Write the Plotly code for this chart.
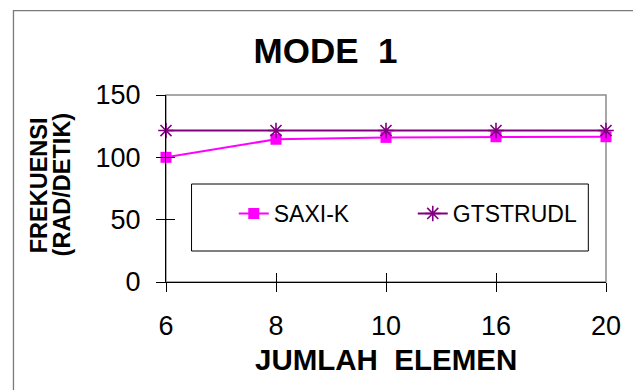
import plotly.graph_objects as go

categories = ["6", "8", "10", "16", "20"]
saxi_k = [100, 114.5, 116, 116.5, 116.5]
gtstrudl = [121.5, 121.5, 121.5, 121.5, 121.5]
y_ticks = [0, 50, 100, 150]

FONT = "Liberation Sans, Arial, sans-serif"

# figure geometry (pixels)
W, H = 633, 390
L, R, T, B = 166, 614, 95, 282
PW, PH = R - L, B - T


def px(x):
    return (x - L) / PW


def py(y):
    return 1 - (y - T) / PH


fig = go.Figure()
fig.add_trace(go.Scatter(
    x=categories, y=saxi_k, name="SAXI-K", mode="lines+markers",
    line=dict(color="#FF00FF", width=2),
    marker=dict(symbol="square", size=11, color="#FF00FF"),
    cliponaxis=False,
))
fig.add_trace(go.Scatter(
    x=categories, y=gtstrudl, name="GTSTRUDL", mode="lines+markers",
    line=dict(color="#800080", width=2),
    marker=dict(symbol="asterisk-open", size=13, color="#800080",
                line=dict(color="#800080", width=1.6)),
    cliponaxis=False,
))
# invisible trace to attach inner-tick overlay axes
fig.add_trace(go.Scatter(x=categories, y=saxi_k, xaxis="x2", yaxis="y2",
                         mode="none", showlegend=False, hoverinfo="skip"))

fig.update_layout(
    width=W, height=H,
    margin=dict(l=L, r=W - R, t=T, b=H - B),
    plot_bgcolor="white", paper_bgcolor="white",
    font=dict(family=FONT, color="black"),
    title=dict(text="MODE\u00a0\u00a01", x=325.5 / W, xref="container",
               y=1 - 50.5 / H, yref="container", xanchor="center", yanchor="middle",
               font=dict(family=FONT, size=35, color="black", weight="bold")),
    xaxis=dict(type="category", categoryorder="array", categoryarray=categories,
               range=[0, 4], showgrid=False, zeroline=False,
               showline=True, linecolor="black", linewidth=1,
               ticks="outside", ticklen=9, tickcolor="black", tickwidth=1,
               tickfont=dict(family=FONT, size=27, color="black"),
               ticklabelstandoff=11),
    yaxis=dict(range=[0, 150], tickvals=y_ticks, showgrid=False, zeroline=False,
               showline=True, linecolor="black", linewidth=1,
               ticks="outside", ticklen=9, tickcolor="black", tickwidth=1,
               tickfont=dict(family=FONT, size=27, color="black"),
               ticklabelstandoff=10),
    xaxis2=dict(type="category", categoryorder="array", categoryarray=categories,
                range=[0, 4], overlaying="x", side="bottom", showgrid=False,
                zeroline=False, showline=False, ticks="inside", ticklen=9,
                tickcolor="black", tickwidth=1, showticklabels=False, matches="x"),
    yaxis2=dict(range=[0, 150], tickvals=y_ticks, overlaying="y", side="left",
                showgrid=False, zeroline=False, showline=False, ticks="inside",
                ticklen=9, tickcolor="black", tickwidth=1, showticklabels=False),
    legend=dict(orientation="h", x=px(235), xanchor="left", y=py(213.5),
                yanchor="middle", bgcolor="rgba(0,0,0,0)", borderwidth=0,
                font=dict(family=FONT, size=23, color="black"),
                entrywidth=134, entrywidthmode="pixels", itemwidth=30),
    showlegend=True,
)

shapes = [
    # plot area border (gray top/right)
    dict(type="rect", xref="paper", yref="paper", x0=0, x1=1, y0=0, y1=1,
         line=dict(color="#8c8c8c", width=1.5), layer="below"),
    # legend box
    dict(type="rect", xref="paper", yref="paper", x0=px(192), x1=px(596),
         y0=py(251), y1=py(184), line=dict(color="black", width=1), layer="below"),
    # outer chart border
    dict(type="rect", xref="paper", yref="paper", x0=px(10.7), x1=px(700),
         y0=py(420), y1=py(10.7), line=dict(color="#7a7a7a", width=1.3), layer="below"),
]
fig.update_layout(shapes=shapes)

annotations = [
    dict(text="<b>JUMLAH\u00a0\u00a0ELEMEN</b>", xref="paper", yref="paper",
         x=px(390.5), y=py(359.5), xanchor="center", yanchor="middle",
         showarrow=False, font=dict(family=FONT, size=29.5, color="black")),
    dict(text="<b>FREKUENSI</b>", xref="paper", yref="paper", textangle=-90,
         x=px(36.5), y=py(185.5), xanchor="center", yanchor="middle",
         showarrow=False, font=dict(family=FONT, size=23.5, color="black")),
    dict(text="<b>(RAD/DETIK)</b>", xref="paper", yref="paper", textangle=-90,
         x=px(60), y=py(184.5), xanchor="center", yanchor="middle",
         showarrow=False, font=dict(family=FONT, size=23.5, color="black")),
]
fig.update_layout(annotations=annotations)

fig.write_html("out.html")
